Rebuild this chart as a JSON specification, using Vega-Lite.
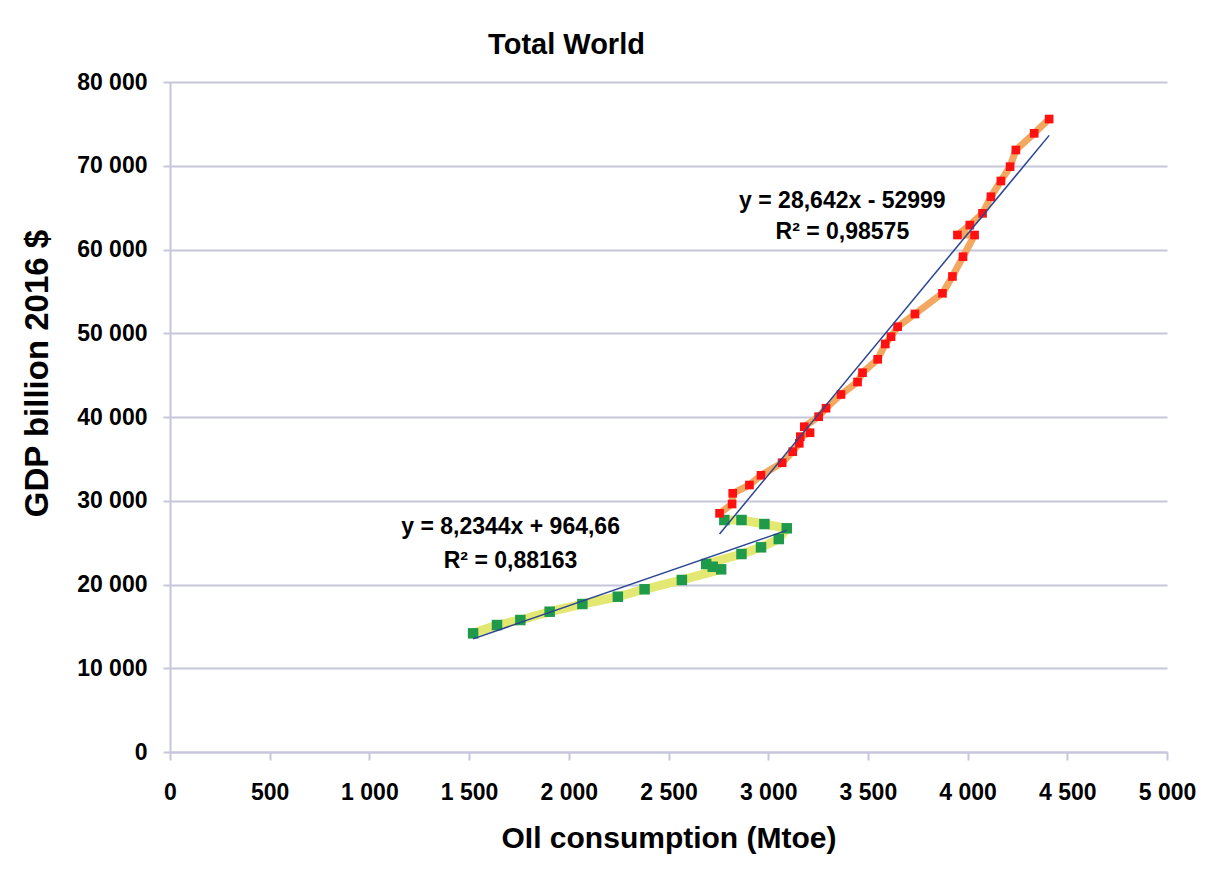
{
  "$schema": "https://vega.github.io/schema/vega-lite/v6.json",
  "width": 997,
  "height": 670,
  "autosize": "none",
  "padding": {"left": 170, "top": 82, "right": 40, "bottom": 123},
  "background": "white",
  "title": {"text": "Total World", "font": "Liberation Sans", "fontSize": 29, "fontWeight": "bold", "color": "black", "anchor": "middle", "dx": -102, "offset": 11},
  "config": {
    "locale": {"number": {"decimal": ",", "thousands": " ", "grouping": [3], "currency": ["", ""]}},
    "view": {"stroke": null},
    "axis": {
      "labelFont": "Liberation Sans", "labelFontWeight": "bold", "labelFontSize": 23, "labelColor": "black",
      "titleFont": "Liberation Sans", "titleFontWeight": "bold", "titleColor": "black",
      "domainColor": "#c6c6dc", "domainWidth": 2, "tickColor": "#c6c6dc", "tickWidth": 2, "tickSize": 8,
      "gridColor": "#c6c6dc", "gridWidth": 2, "labelFlush": false
    }
  },
  "datasets": {
    "pts": [
      {"series": "A", "year": 1965, "x": 1520, "y": 14170},
      {"series": "A", "year": 1966, "x": 1640, "y": 15160},
      {"series": "A", "year": 1967, "x": 1757, "y": 15760},
      {"series": "A", "year": 1968, "x": 1904, "y": 16750},
      {"series": "A", "year": 1969, "x": 2068, "y": 17670},
      {"series": "A", "year": 1970, "x": 2246, "y": 18540},
      {"series": "A", "year": 1971, "x": 2380, "y": 19430},
      {"series": "A", "year": 1972, "x": 2567, "y": 20540},
      {"series": "A", "year": 1973, "x": 2764, "y": 21810},
      {"series": "A", "year": 1974, "x": 2722, "y": 22120},
      {"series": "A", "year": 1975, "x": 2689, "y": 22450},
      {"series": "A", "year": 1976, "x": 2866, "y": 23640},
      {"series": "A", "year": 1977, "x": 2964, "y": 24440},
      {"series": "A", "year": 1978, "x": 3053, "y": 25430},
      {"series": "A", "year": 1979, "x": 3093, "y": 26710},
      {"series": "A", "year": 1980, "x": 2981, "y": 27220},
      {"series": "A", "year": 1981, "x": 2866, "y": 27700},
      {"series": "A", "year": 1982, "x": 2780, "y": 27700},
      {"series": "B", "year": 1983, "x": 2756, "y": 28500},
      {"series": "B", "year": 1984, "x": 2819, "y": 29610},
      {"series": "B", "year": 1985, "x": 2822, "y": 30890},
      {"series": "B", "year": 1986, "x": 2906, "y": 31880},
      {"series": "B", "year": 1987, "x": 2964, "y": 33040},
      {"series": "B", "year": 1988, "x": 3070, "y": 34540},
      {"series": "B", "year": 1989, "x": 3123, "y": 35860},
      {"series": "B", "year": 1990, "x": 3156, "y": 36860},
      {"series": "B", "year": 1991, "x": 3161, "y": 37650},
      {"series": "B", "year": 1992, "x": 3210, "y": 38120},
      {"series": "B", "year": 1993, "x": 3181, "y": 38840},
      {"series": "B", "year": 1994, "x": 3253, "y": 40040},
      {"series": "B", "year": 1995, "x": 3290, "y": 41050},
      {"series": "B", "year": 1996, "x": 3365, "y": 42690},
      {"series": "B", "year": 1997, "x": 3448, "y": 44180},
      {"series": "B", "year": 1998, "x": 3473, "y": 45290},
      {"series": "B", "year": 1999, "x": 3549, "y": 46890},
      {"series": "B", "year": 2000, "x": 3587, "y": 48720},
      {"series": "B", "year": 2001, "x": 3616, "y": 49590},
      {"series": "B", "year": 2002, "x": 3649, "y": 50780},
      {"series": "B", "year": 2003, "x": 3736, "y": 52300},
      {"series": "B", "year": 2004, "x": 3874, "y": 54770},
      {"series": "B", "year": 2005, "x": 3924, "y": 56780},
      {"series": "B", "year": 2006, "x": 3977, "y": 59140},
      {"series": "B", "year": 2007, "x": 4035, "y": 61730},
      {"series": "B", "year": 2008, "x": 3949, "y": 61730},
      {"series": "B", "year": 2009, "x": 4011, "y": 62920},
      {"series": "B", "year": 2010, "x": 4075, "y": 64320},
      {"series": "B", "year": 2011, "x": 4117, "y": 66300},
      {"series": "B", "year": 2012, "x": 4167, "y": 68180},
      {"series": "B", "year": 2013, "x": 4213, "y": 69890},
      {"series": "B", "year": 2014, "x": 4242, "y": 71880},
      {"series": "B", "year": 2015, "x": 4334, "y": 73870},
      {"series": "B", "year": 2016, "x": 4409, "y": 75580}
    ],
    "labels": [
      {"t": "y = 28,642x - 52999", "x": 3372, "y": 65790},
      {"t": "R² = 0,98575", "x": 3372, "y": 62090},
      {"t": "y = 8,2344x + 964,66", "x": 1708, "y": 26865},
      {"t": "R² = 0,88163", "x": 1708, "y": 22805}
    ]
  },
  "encoding": {
    "x": {"field": "x", "type": "quantitative",
      "scale": {"domain": [0, 5000], "nice": false, "zero": false},
      "axis": {"values": [0, 500, 1000, 1500, 2000, 2500, 3000, 3500, 4000, 4500, 5000], "format": ",d", "grid": false, "labelPadding": 21,
        "title": "OIl consumption (Mtoe)", "titleFontSize": 30, "titlePadding": 19}},
    "y": {"field": "y", "type": "quantitative",
      "scale": {"domain": [0, 80000], "nice": false, "zero": false},
      "axis": {"values": [0, 10000, 20000, 30000, 40000, 50000, 60000, 70000, 80000], "format": ",d", "grid": true, "tickSize": 7, "labelPadding": 16,
        "title": "GDP billion 2016 $", "titleFontSize": 33, "titleX": -133, "titleY": 291, "titleAlign": "center", "titleBaseline": "middle", "titleAngle": -90}}
  },
  "layer": [
    {"data": {"name": "pts"}, "transform": [{"filter": "datum.series === 'A'"}],
     "mark": {"type": "line", "color": "#e3e873", "strokeWidth": 9, "strokeJoin": "round"},
     "encoding": {"order": {"field": "year", "type": "quantitative"}}},
    {"data": {"name": "pts"}, "transform": [{"filter": "datum.series === 'B'"}],
     "mark": {"type": "line", "color": "#f3a862", "strokeWidth": 7, "strokeJoin": "round"},
     "encoding": {"order": {"field": "year", "type": "quantitative"}}},
    {"data": {"name": "pts"}, "transform": [{"filter": "datum.series === 'A'"}],
     "mark": {"type": "point", "shape": "square", "filled": true, "color": "#1f9a4b", "opacity": 1, "size": 110}},
    {"data": {"name": "pts"}, "transform": [{"filter": "datum.series === 'B'"}],
     "mark": {"type": "point", "shape": "square", "filled": true, "color": "#ff1111", "opacity": 1, "size": 75}},
    {"data": {"name": "pts"}, "transform": [{"filter": "datum.series === 'A'"}, {"regression": "y", "on": "x"}],
     "mark": {"type": "line", "color": "#2a4591", "strokeWidth": 1.5},
     "encoding": {}},
    {"data": {"name": "pts"}, "transform": [{"filter": "datum.series === 'B'"}, {"regression": "y", "on": "x"}],
     "mark": {"type": "line", "color": "#2a4591", "strokeWidth": 1.5},
     "encoding": {}},
    {"data": {"name": "labels"},
     "mark": {"type": "text", "font": "Liberation Sans", "fontWeight": "bold", "fontSize": 23, "color": "black", "align": "center", "baseline": "middle"},
     "encoding": {"text": {"field": "t", "type": "nominal"}}}
  ]
}
